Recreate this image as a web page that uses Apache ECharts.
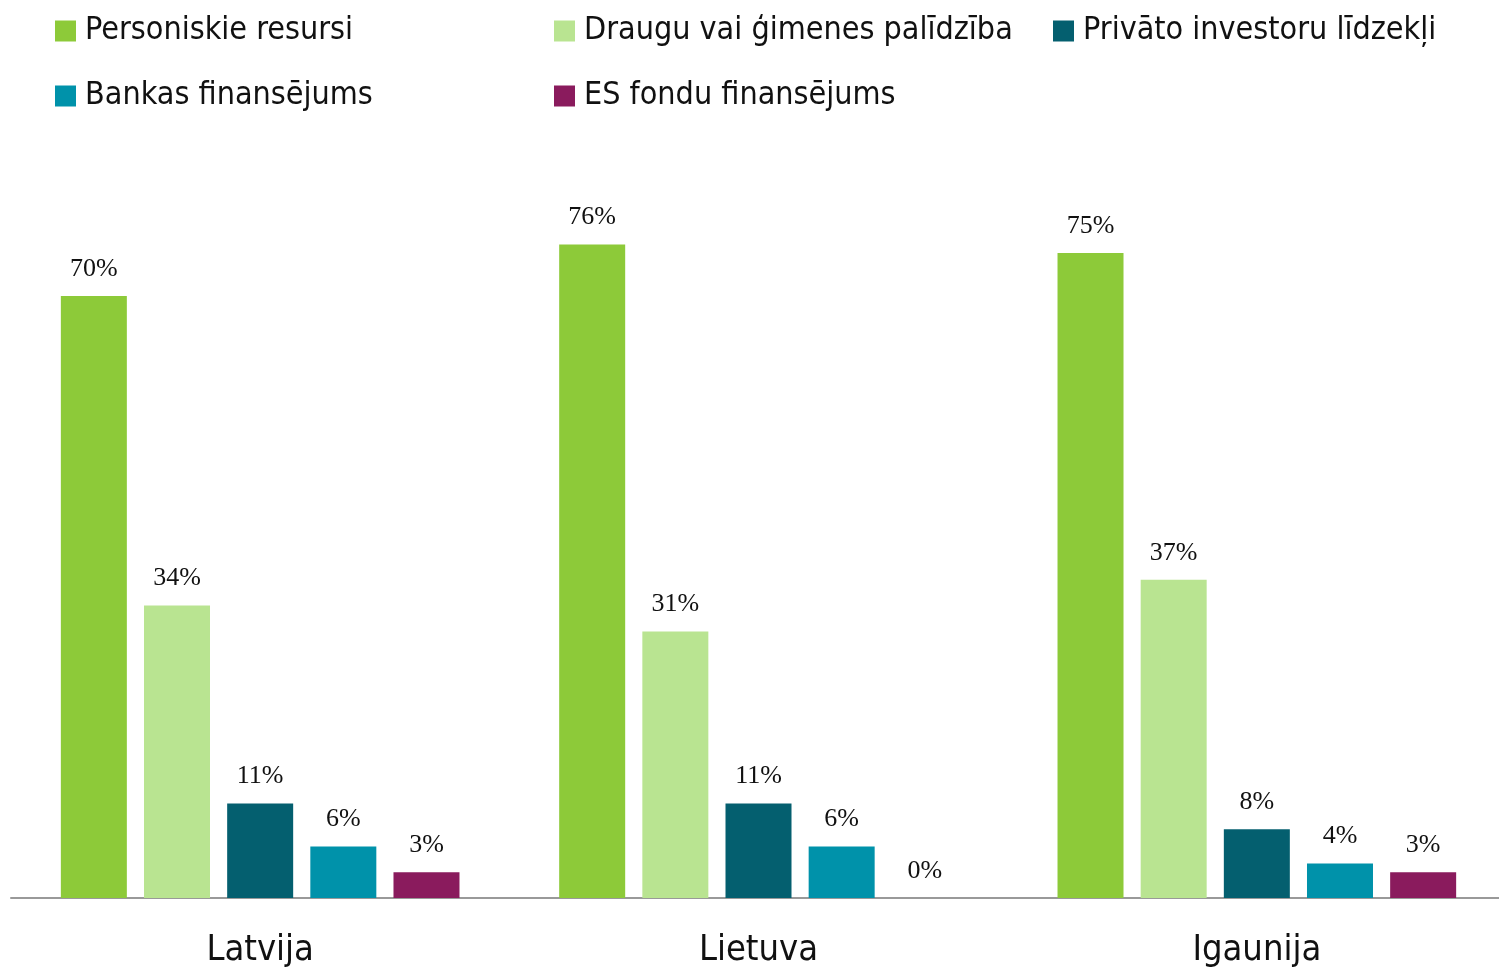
<!DOCTYPE html>
<html>
<head>
<meta charset="utf-8">
<script src="https://cdn.jsdelivr.net/npm/echarts@6/dist/echarts.min.js"></script>
<style>
  html, body { margin: 0; padding: 0; background: #fff; }
  #chart { width: 1499px; height: 971px; }
</style>
</head>
<body>
<div id="chart"></div>
<script>
// countries on the x axis
var countries = ['Latvija', 'Lietuva', 'Igaunija']
// funding sources (series)
var sources = ['Personiskie resursi', 'Draugu vai ģimenes palīdzība', 'Privāto investoru līdzekļi', 'Bankas finansējums', 'ES fondu finansējums']
// values in % per source, in the order of countries
var personal = [70, 76, 75]
var family = [34, 31, 37]
var investors = [11, 11, 8]
var bank = [6, 6, 4]
var euFunds = [3, 0, 3]

var values = [personal, family, investors, bank, euFunds]
var colors = ['#8dca39', '#b9e491', '#045f6f', '#0092aa', '#8a1b5d']
var sansFont = '"Liberation Sans Narrow", "DejaVu Sans Condensed", sans-serif'

var chart = echarts.init(document.getElementById('chart'))

// one legend per item so the columns line up like the original
var legendPos = [[55, 15], [554, 15], [1053, 15], [55, 80], [554, 80]]
var legends = sources.map(function (name, i) {
  return {
    data: [name],
    left: legendPos[i][0],
    top: legendPos[i][1],
    icon: 'rect',
    itemWidth: 21,
    itemHeight: 21,
    itemGap: 0,
    padding: 0,
    textStyle: {
      fontFamily: sansFont,
      fontSize: 32,
      color: '#111',
      padding: [0, 0, 0, 4]
    }
  }
})

var series = sources.map(function (name, i) {
  return {
    name: name,
    type: 'bar',
    data: values[i],
    barWidth: 66,
    barGap: '26%',
    itemStyle: { color: colors[i] },
    label: {
      show: true,
      position: 'top',
      distance: 14,
      formatter: '{c}%',
      fontFamily: '"Liberation Serif", "DejaVu Serif", serif',
      fontSize: 26,
      color: '#111'
    }
  }
})

chart.setOption({
  animation: false,
  legend: legends,
  grid: {
    left: 11,
    right: -7,
    top: 38,
    bottom: 73,
    outerBoundsMode: 'none',
    containLabel: false
  },
  xAxis: {
    type: 'category',
    data: countries,
    axisLine: { lineStyle: { color: '#999', width: 2 } },
    axisTick: { show: false },
    axisLabel: {
      fontFamily: sansFont,
      fontSize: 36,
      color: '#111',
      margin: 35
    }
  },
  yAxis: {
    type: 'value',
    min: 0,
    max: 100,
    show: false,
    splitLine: { show: false }
  },
  series: series
})
</script>
</body>
</html>
